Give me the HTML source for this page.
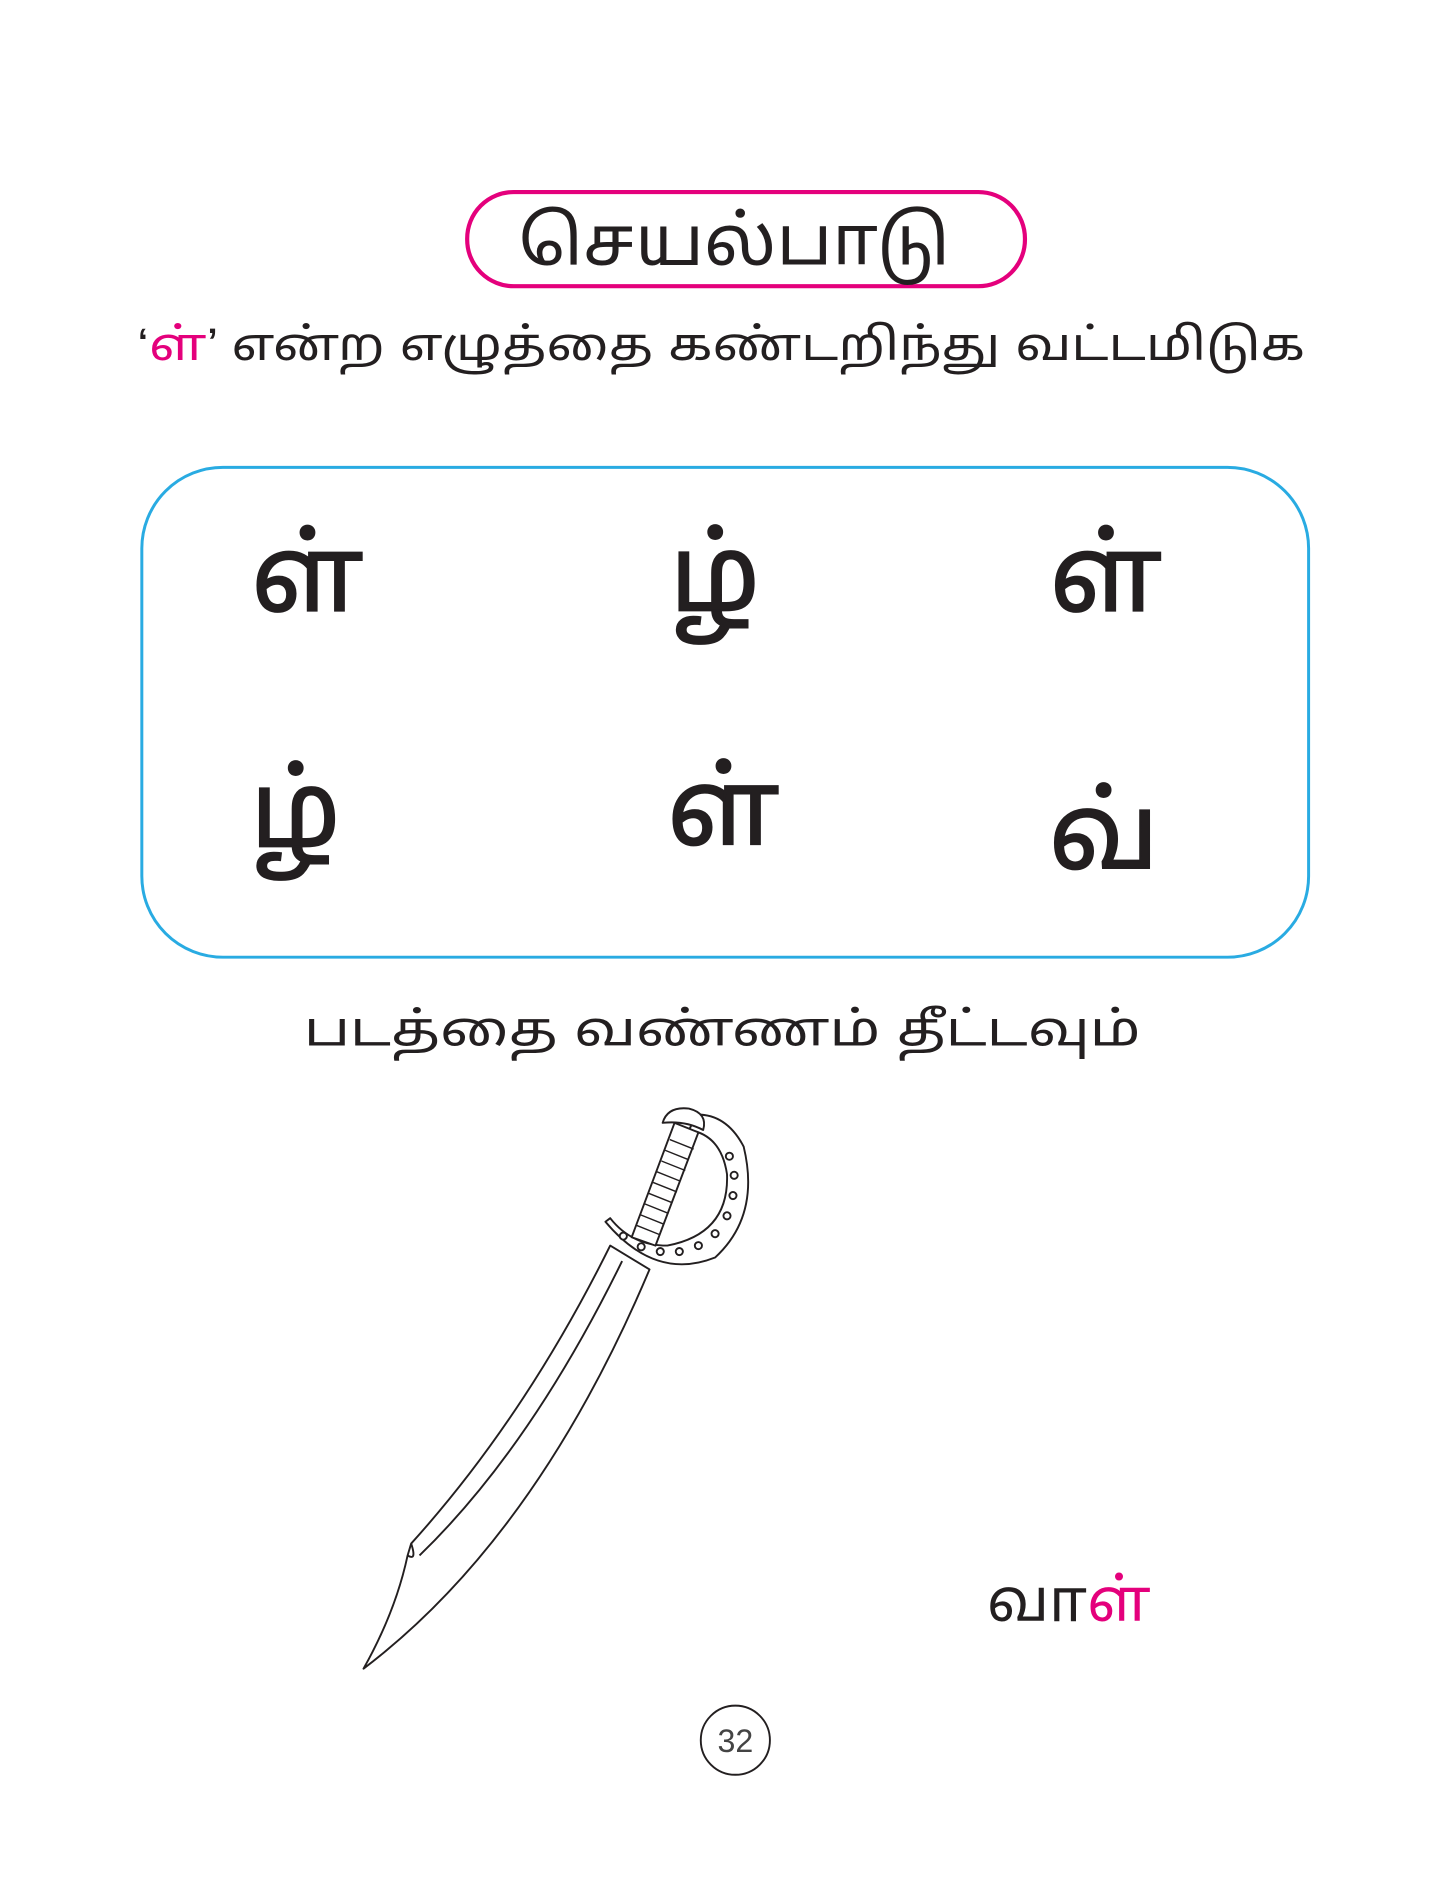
<!DOCTYPE html>
<html><head><meta charset="utf-8">
<style>
html,body{margin:0;padding:0;background:#fff;}
svg{display:block;}
text{font-family:"Liberation Sans","Noto Sans Tamil","Lohit Tamil","Latha",sans-serif;}
</style></head>
<body>
<svg width="1454" height="1881" viewBox="0 0 1220 1578" xmlns="http://www.w3.org/2000/svg">
  <rect x="0" y="0" width="1220" height="1578" fill="#fff"/>
  <g>
    <rect x="392" y="161" width="468" height="79" rx="39" fill="none" stroke="#e4007c" stroke-width="3.5"/>
    <text x="616" y="222" font-size="58" text-anchor="middle" fill="#231f20" textLength="362" lengthAdjust="spacingAndGlyphs">செயல்பாடு</text>
  </g>
  <text x="115" y="302" font-size="38" fill="#231f20" textLength="980" lengthAdjust="spacingAndGlyphs"><tspan>‘</tspan><tspan fill="#e4007c">ள்</tspan><tspan>’ என்ற எழுத்தை கண்டறிந்து வட்டமிடுக</tspan></text>

  <rect x="119" y="392" width="979" height="411" rx="68" fill="none" stroke="#29abe2" stroke-width="2.5"/>
  <g font-size="88" fill="#231f20" stroke="#231f20" stroke-width="1.5" text-anchor="middle">
    <text x="258" y="512">ள்</text>
    <text x="600" y="512">ழ்</text>
    <text x="928" y="512">ள்</text>
    <text x="248" y="710">ழ்</text>
    <text x="607" y="708">ள்</text>
    <text x="926" y="728">வ்</text>
  </g>

  <text x="606" y="877" font-size="40" text-anchor="middle" fill="#231f20" textLength="702" lengthAdjust="spacingAndGlyphs">படத்தை வண்ணம் தீட்டவும்</text>

  <g fill="none" stroke="#231f20" stroke-width="1.6" stroke-linejoin="round">
    <path d="M512,1045 Q440,1190 345,1295 L342,1305 Q332,1352 305,1400 Q450,1290 545,1065 Z" fill="#fff"/>
    <path d="M522,1058 Q445,1215 352,1305"/>
    <path d="M345,1295 Q350,1310 342,1305"/>
    <path d="M508,1025 Q550,1075 600,1055 Q638,1020 624,962 Q610,935 585,935 L578,948 Q605,952 610,985 Q612,1035 560,1045 Q530,1045 512,1022 Z" fill="#fff"/>
    <g fill="#fff">
      <circle cx="523" cy="1037" r="3"/><circle cx="538" cy="1046" r="3"/><circle cx="554" cy="1050" r="3"/>
      <circle cx="570" cy="1050" r="3"/><circle cx="586" cy="1045" r="3"/><circle cx="600" cy="1035" r="3"/>
      <circle cx="610" cy="1020" r="3"/><circle cx="615" cy="1003" r="3"/><circle cx="616" cy="986" r="3"/>
      <circle cx="612" cy="970" r="3"/>
    </g>
    <path d="M530,1038 L566,942 L586,950 L550,1045 Z" fill="#fff"/>
    <g stroke-width="1.2">
      <path d="M534,1028 L554,1036"/><path d="M537,1019 L557,1027"/><path d="M541,1010 L561,1018"/>
      <path d="M544,1001 L564,1009"/><path d="M548,992 L568,1000"/><path d="M551,983 L571,991"/>
      <path d="M555,974 L575,982"/><path d="M558,965 L578,973"/><path d="M562,956 L582,964"/>
    </g>
    <path d="M556,942 Q560,928 578,930 Q594,934 590,948 Q575,940 556,942 Z" fill="#fff"/>
  </g>

  <text x="828" y="1360" font-size="50" fill="#231f20">வா<tspan fill="#e4007c">ள்</tspan></text>

  <g>
    <circle cx="617" cy="1460" r="29" fill="none" stroke="#231f20" stroke-width="1.6"/>
    <text x="617" y="1470" font-size="27" text-anchor="middle" fill="#444">32</text>
  </g>
</svg>
</body></html>
